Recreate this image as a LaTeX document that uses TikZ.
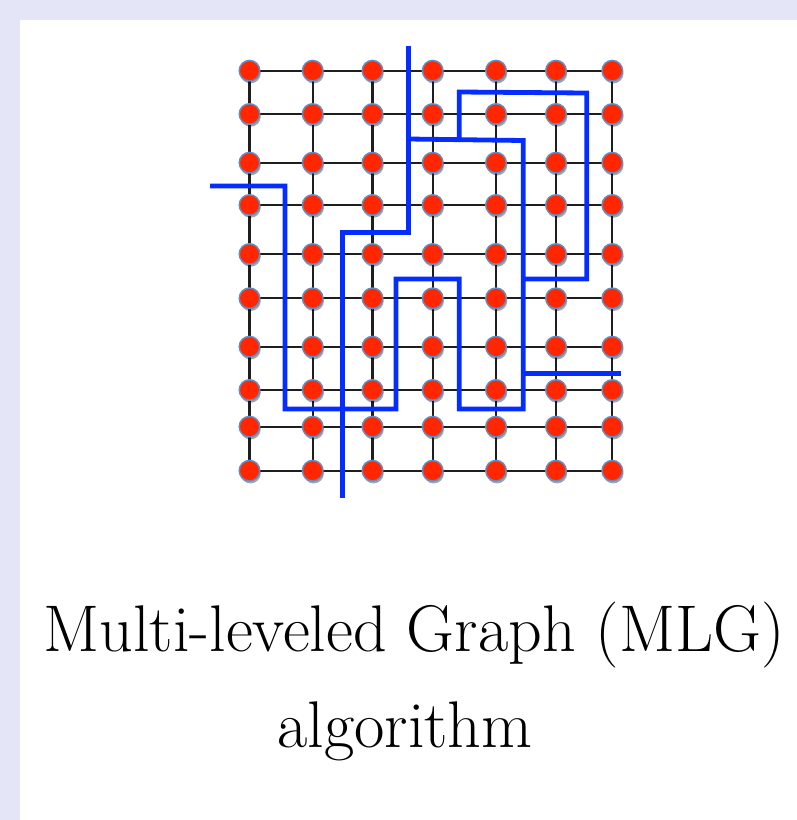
\documentclass[tikz,border=0pt]{standalone}
\usetikzlibrary{shadows}
\definecolor{lav}{RGB}{228,230,248}
\definecolor{nodered}{RGB}{255,38,0}
\definecolor{noderim}{RGB}{100,140,195}
\definecolor{pathblue}{RGB}{5,45,255}
\definecolor{gridline}{RGB}{30,30,30}
\tikzset{
  vtx/.style={circle, minimum size=20.5pt, inner sep=0pt, fill=nodered, draw=noderim, line width=1.5pt,
    drop shadow={shadow xshift=1pt, shadow yshift=-2.5pt, opacity=0.35, fill=black}},
  edge/.style={draw=gridline, line width=2.3pt},
  cut/.style={draw=pathblue, line width=4.8pt, line join=miter},
  caption/.style={anchor=base, inner sep=0pt, font=\fontsize{66}{96}\selectfont}
}
\begin{document}
\begin{tikzpicture}[x=1pt,y=-1pt]
\useasboundingbox (0,0) rectangle (797,820);
\fill[lav] (0,0) rectangle (797,820);
\fill[white] (20.3,20.3) rectangle (797,820);
% grid nodes
\def\colsx{249.5,312.7,372.5,432.7,496,556,612.3}
\def\rowsy{70.7,114,162.7,205,254,298.3,346.7,390,426.7,470.7}
\foreach \x [count=\i] in \colsx {
  \foreach \y [count=\j] in \rowsy {
    \coordinate (c-\i-\j) at (\x,\y);
  }
}
% grid edges
\foreach \i in {1,...,7} {
  \foreach \j [evaluate=\j as \jn using int(\j+1)] in {1,...,9} {
    \draw[edge] (c-\i-\j) -- (c-\i-\jn);
  }
}
\foreach \j in {1,...,10} {
  \foreach \i [evaluate=\i as \in using int(\i+1)] in {1,...,6} {
    \draw[edge] (c-\i-\j) -- (c-\in-\j);
  }
}
% blue cut paths
\coordinate (a0) at (408.3,45.7);
\coordinate (a1) at (408.3,232.3);
\coordinate (a2) at (342.7,232.3);
\coordinate (a3) at (342.7,498);
\draw[cut] (a0) -- (a1) -- (a2) -- (a3);
\coordinate (b0) at (408.3,139);
\coordinate (b1) at (523.3,140.5);
\coordinate (b2) at (523.3,409);
\coordinate (b3) at (459.3,409);
\coordinate (b4) at (459.3,279);
\coordinate (b5) at (396,279);
\coordinate (b6) at (396,409);
\coordinate (b7) at (285,409);
\coordinate (b8) at (285,186);
\coordinate (b9) at (210,186);
\draw[cut] (b0) -- (b1) -- (b2) -- (b3) -- (b4) -- (b5) -- (b6) -- (b7) -- (b8) -- (b9);
\coordinate (d0) at (523.3,373.3);
\coordinate (d1) at (620.7,373.3);
\draw[cut] (d0) -- (d1);
\coordinate (e0) at (459.3,139.5);
\coordinate (e1) at (459.3,92);
\coordinate (e2) at (586.7,93);
\coordinate (e3) at (586.7,279);
\coordinate (e4) at (523.3,279);
\draw[cut] (e0) -- (e1) -- (e2) -- (e3) -- (e4);
% vertices
\foreach \i in {1,...,7} {
  \foreach \j in {1,...,10} {
    \node[vtx] (n-\i-\j) at (c-\i-\j) {};
  }
}
% caption
\node[caption] (t1) at (414,651) {Multi-leveled Graph (MLG)};
\node[caption] (t2) at (405,747) {algorithm};
\end{tikzpicture}
\end{document}
